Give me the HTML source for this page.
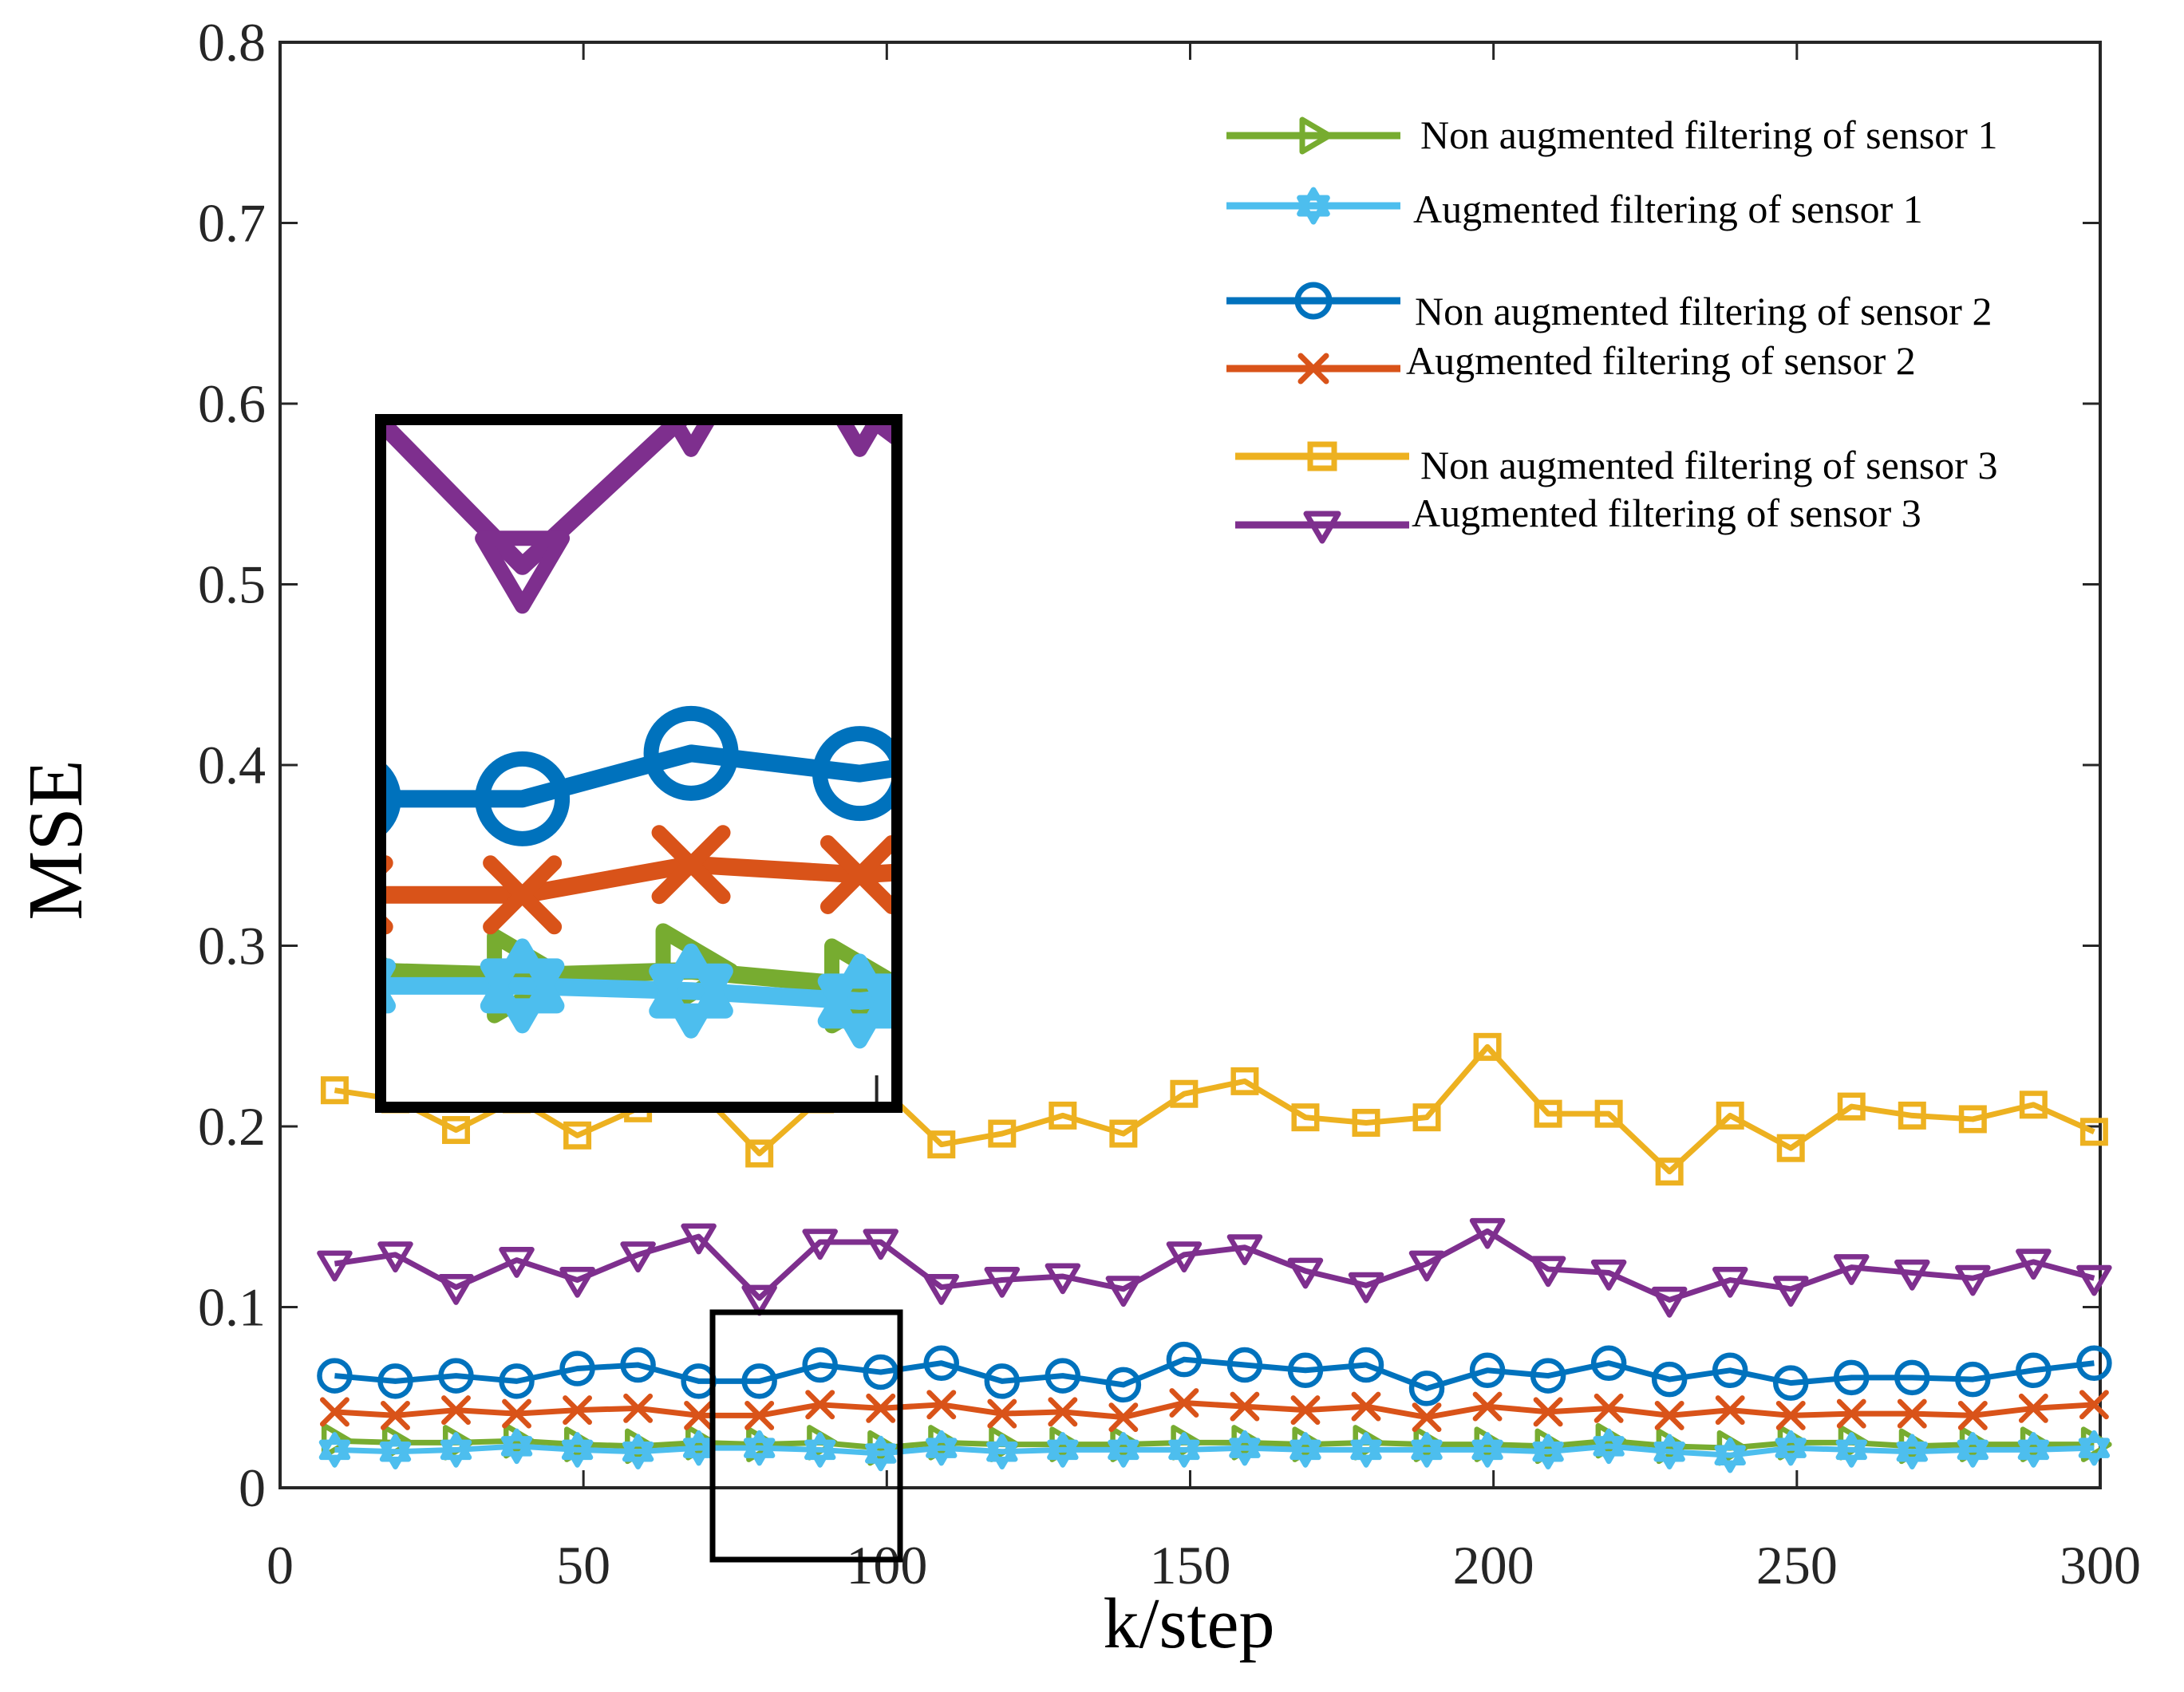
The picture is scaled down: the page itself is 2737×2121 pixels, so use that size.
<!DOCTYPE html>
<html><head><meta charset="utf-8"><style>
html,body{margin:0;padding:0;background:#fff;}
svg{display:block;font-family:"Liberation Serif",serif;}
</style></head><body>
<svg id="chart" width="2737" height="2121" viewBox="0 0 2737 2121" xmlns="http://www.w3.org/2000/svg"></svg>
<script>
const steps=[9,19,29,39,49,59,69,79,89,99,109,119,129,139,149,159,169,179,189,199,209,219,229,239,249,259,269,279,289,299];
const nonAug1=[0.026,0.025,0.025,0.026,0.024,0.023,0.025,0.024,0.025,0.022,0.025,0.024,0.024,0.024,0.025,0.025,0.024,0.025,0.024,0.024,0.023,0.026,0.023,0.022,0.025,0.025,0.023,0.024,0.024,0.024];
const aug1=[0.021,0.020,0.021,0.023,0.021,0.020,0.022,0.022,0.021,0.019,0.022,0.020,0.021,0.021,0.021,0.022,0.021,0.021,0.021,0.021,0.020,0.023,0.020,0.018,0.022,0.021,0.020,0.021,0.021,0.022];
const nonAug2=[0.062,0.059,0.062,0.059,0.066,0.068,0.059,0.059,0.068,0.064,0.069,0.059,0.062,0.057,0.071,0.068,0.065,0.068,0.055,0.065,0.062,0.069,0.060,0.065,0.058,0.061,0.061,0.060,0.065,0.069];
const aug2=[0.042,0.040,0.043,0.041,0.043,0.044,0.040,0.040,0.046,0.044,0.046,0.041,0.042,0.039,0.047,0.045,0.043,0.045,0.039,0.045,0.042,0.044,0.040,0.043,0.040,0.041,0.041,0.040,0.044,0.046];
const nonAug3=[0.220,0.215,0.198,0.215,0.195,0.210,0.220,0.185,0.215,0.222,0.190,0.196,0.206,0.196,0.218,0.225,0.205,0.202,0.205,0.244,0.207,0.207,0.175,0.206,0.188,0.211,0.206,0.204,0.212,0.197];
const aug3=[0.124,0.129,0.111,0.126,0.115,0.129,0.139,0.105,0.136,0.136,0.111,0.115,0.117,0.110,0.129,0.133,0.120,0.112,0.124,0.142,0.121,0.119,0.104,0.115,0.110,0.122,0.119,0.116,0.125,0.116];
const xTicks=[0,50,100,150,200,250,300];
const yTicks=[0,0.1,0.2,0.3,0.4,0.5,0.6,0.7,0.8];
const yTickLabels=["0","0.1","0.2","0.3","0.4","0.5","0.6","0.7","0.8"];
const legendLabels=["Non augmented filtering of sensor 1","Augmented filtering of sensor 1","Non augmented filtering of sensor 2","Augmented filtering of sensor 2","Non augmented filtering of sensor 3","Augmented filtering of sensor 3"];

const NS="http://www.w3.org/2000/svg";
const svg=document.getElementById('chart');
function mk(tag,attrs,parent){const e=document.createElementNS(NS,tag);for(const k in attrs)e.setAttribute(k,attrs[k]);(parent||svg).appendChild(e);return e;}
const L=351,R=2632,T=53,B=1865;
const X=v=>L+(v-0)/300*(R-L);
const Y=v=>B-(v-0)/0.8*(B-T);

const series=[
 {name:'non-aug-sensor-1',data:nonAug1,color:'#77AC30',m:'triR'},
 {name:'aug-sensor-1',data:aug1,color:'#4DBEEE',m:'hex'},
 {name:'non-aug-sensor-2',data:nonAug2,color:'#0072BD',m:'circ'},
 {name:'aug-sensor-2',data:aug2,color:'#D95319',m:'x'},
 {name:'non-aug-sensor-3',data:nonAug3,color:'#EDB120',m:'sq'},
 {name:'aug-sensor-3',data:aug3,color:'#7E2F8E',m:'triD'}];

function marker(g,type,cx,cy,s,color,sw){
 let e;
 if(type==='circ') e=mk('circle',{cx,cy,r:s,fill:'none',stroke:color,'stroke-width':sw},g);
 else if(type==='sq') e=mk('rect',{x:cx-s*0.75,y:cy-s*0.75,width:s*1.5,height:s*1.5,fill:'none',stroke:color,'stroke-width':sw},g);
 else if(type==='x') e=mk('path',{d:`M${cx-s*0.8},${cy-s*0.8}L${cx+s*0.8},${cy+s*0.8}M${cx+s*0.8},${cy-s*0.8}L${cx-s*0.8},${cy+s*0.8}`,stroke:color,'stroke-width':sw,fill:'none','stroke-linecap':'round'},g);
 else if(type==='triD') e=mk('path',{d:`M${cx-s},${cy-s*0.7}L${cx+s},${cy-s*0.7}L${cx},${cy+s*1.0}Z`,fill:'none',stroke:color,'stroke-width':sw,'stroke-linejoin':'round'},g);
 else if(type==='triR') e=mk('path',{d:`M${cx-s*0.7},${cy-s}L${cx-s*0.7},${cy+s}L${cx+s},${cy}Z`,fill:'none',stroke:color,'stroke-width':sw,'stroke-linejoin':'round'},g);
 else if(type==='hex'){
  let p1='',p2='';
  for(let i=0;i<3;i++){const a=-Math.PI/2+i*2*Math.PI/3;p1+=(i?'L':'M')+(cx+s*Math.cos(a))+','+(cy+s*Math.sin(a));}
  for(let i=0;i<3;i++){const a=Math.PI/2+i*2*Math.PI/3;p2+=(i?'L':'M')+(cx+s*Math.cos(a))+','+(cy+s*Math.sin(a));}
  e=mk('path',{d:p1+'Z'+p2+'Z',fill:'none',stroke:color,'stroke-width':sw,'stroke-linejoin':'round'},g);
 }
 
 
 return e;
}

function drawSeries(parent,xf,yf,sw,ms,msw){
 series.forEach(s=>{
  const g=mk('g',{},parent);
  
  
  const pts=steps.map((k,i)=>xf(k)+','+yf(s.data[i])).join(' ');
  const pl=mk('polyline',{points:pts,fill:'none',stroke:s.color,'stroke-width':sw,'stroke-linejoin':'round'},g);
  
  
  steps.forEach((k,i)=>marker(g,s.m,xf(k),yf(s.data[i]),ms,s.color,msw));
 });
}

const frame=mk('rect',{x:L,y:T,width:R-L,height:B-T,fill:'#fff',stroke:'#262626','stroke-width':4});



xTicks.forEach(v=>{
 mk('line',{x1:X(v),y1:B,x2:X(v),y2:B-22,stroke:'#262626','stroke-width':3});
 mk('line',{x1:X(v),y1:T,x2:X(v),y2:T+22,stroke:'#262626','stroke-width':3});
 const t=mk('text',{x:X(v),y:1985,'font-size':68,'text-anchor':'middle',fill:'#262626'});
 t.textContent=v;
 
 
});
yTicks.forEach((v,i)=>{
 mk('line',{x1:L,y1:Y(v),x2:L+22,y2:Y(v),stroke:'#262626','stroke-width':3});
 mk('line',{x1:R,y1:Y(v),x2:R-22,y2:Y(v),stroke:'#262626','stroke-width':3});
 const t=mk('text',{x:333,y:Y(v)+23,'font-size':68,'text-anchor':'end',fill:'#262626'});
 t.textContent=yTickLabels[i];
 
 
});

const main=mk('g',{});


drawSeries(main,X,Y,7,19,6.5);

const zr=mk('rect',{x:893,y:1645,width:235,height:310,fill:'none',stroke:'#000','stroke-width':7});



const IL=477,IR=1124,IT=526,IB=1388;
const IX=v=>IL+(v-70.6)/(101.2-70.6)*(IR-IL);
const IY=v=>IB-(v+0.002)/(0.134+0.002)*(IB-IT);
const defs=mk('defs',{});
const cp=mk('clipPath',{id:'insetClip'},defs);
mk('rect',{x:IL,y:IT,width:IR-IL,height:IB-IT},cp);
const inset=mk('g',{});


mk('rect',{x:IL,y:IT,width:IR-IL,height:IB-IT,fill:'#fff'},inset);
const ig=mk('g',{'clip-path':'url(#insetClip)'},inset);
drawSeries(ig,IX,IY,22,50,19);
mk('line',{x1:IX(100),y1:IB,x2:IX(100),y2:IB-40,stroke:'#262626','stroke-width':4},ig);
const ib=mk('rect',{x:IL,y:IT,width:IR-IL,height:IB-IT,fill:'none',stroke:'#000','stroke-width':14},inset);



const legY=[170,258,377,462,572,658];
const legTextY=[186,279,407,469,600,660];
const legTX=[1780,1771,1773,1762,1780,1769];
const legLX=[[1537,1755],[1537,1755],[1537,1755],[1537,1755],[1548,1766],[1548,1766]];
const leg=mk('g',{});


series.forEach((s,i)=>{
 const g=mk('g',{},leg);
 
 
 mk('line',{x1:legLX[i][0],y1:legY[i],x2:legLX[i][1],y2:legY[i],stroke:s.color,'stroke-width':9},g);
 marker(g,s.m,(legLX[i][0]+legLX[i][1])/2,legY[i],20,s.color,7);
 const t=mk('text',{x:legTX[i],y:legTextY[i],'font-size':50,fill:'#000'},g);
 t.textContent=legendLabels[i];
});

const xt=mk('text',{x:1490,y:2065,'font-size':90,'text-anchor':'middle',fill:'#000'});
xt.textContent='k/step';


const yt=mk('text',{x:0,y:0,'font-size':98,'text-anchor':'middle',fill:'#000',transform:'translate(102,1053) rotate(-90)'});
yt.textContent='MSE';


</script>
</body></html>
